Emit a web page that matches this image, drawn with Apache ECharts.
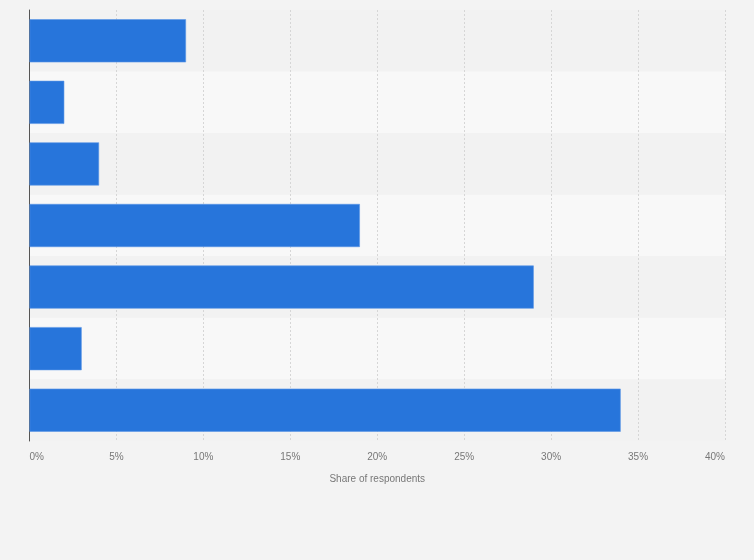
<!DOCTYPE html>
<html>
<head>
<meta charset="utf-8" />
<style>html,body{margin:0;padding:0;background:#f3f3f3}#chart{width:754px;height:560px}</style>
<script src="https://cdn.jsdelivr.net/npm/echarts@6/dist/echarts.min.js"></script>
</head>
<body>
<div id="chart"></div>
<script>
// categories have no visible labels in the reference
const categories = ["A", "B", "C", "D", "E", "F", "G"];
const shares = [9, 2, 4, 19, 29, 3, 34];
const xTicks = [0, 5, 10, 15, 20, 25, 30, 35, 40];

const chart = echarts.init(document.getElementById("chart"), null, { renderer: "canvas" });
chart.setOption({
  backgroundColor: "#f3f3f3",
  animation: false,
  grid: { left: 29.5, right: 29, top: 10, bottom: 119, containLabel: false },
  xAxis: {
    type: "value",
    min: xTicks[0],
    max: xTicks[xTicks.length - 1],
    interval: 5,
    name: "Share of respondents",
    nameLocation: "middle",
    nameGap: 33,
    nameTextStyle: { color: "#777", fontSize: 10, fontFamily: "Arial, Liberation Sans" },
    axisLine: { show: false },
    axisTick: { show: false },
    axisLabel: {
      color: "#777", fontSize: 10, fontFamily: "Arial, Liberation Sans", margin: 11,
      formatter: (v) => v + "%",
      alignMinLabel: "left", alignMaxLabel: "right"
    },
    splitLine: { show: true, lineStyle: { color: "#d6d6d6", type: [2, 2], width: 1 } }
  },
  yAxis: {
    type: "category",
    data: categories,
    inverse: true,
    axisLine: { show: true, lineStyle: { color: "#555", width: 1 } },
    axisTick: { show: false },
    axisLabel: { show: false },
    splitArea: { show: true, areaStyle: { color: ["#f2f2f2", "#f8f8f8"] } }
  },
  series: [{
    type: "bar",
    data: shares,
    barCategoryGap: "30%",
    itemStyle: { color: "#2775db", borderColor: "#5b95e6", borderWidth: 0.6 }
  }]
});
</script>
</body>
</html>
